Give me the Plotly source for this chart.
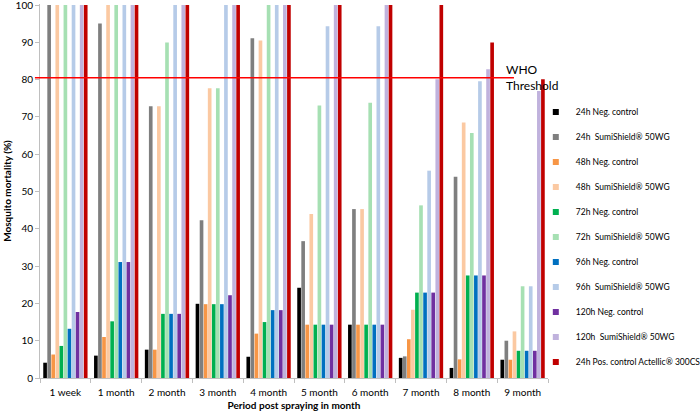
import plotly.graph_objects as go

categories = ["1 week", "1 month", "2 month", "3 month", "4 month", "5 month",
              "6 month", "7 month", "8 month", "9 month"]

series_names = [
    "24h Neg. control",
    "24h  SumiShield® 50WG",
    "48h Neg. control",
    "48h  SumiShield® 50WG",
    "72h Neg. control",
    "72h  SumiShield® 50WG",
    "96h Neg. control",
    "96h  SumiShield® 50WG",
    "120h Neg. control",
    "120h  SumiShield® 50WG",
    "24h Pos. control Actellic® 300CS",
]

neg24 = [4.1, 6.0, 7.6, 19.9, 5.7, 24.2, 14.3, 5.4, 2.7, 4.9]
sumi24 = [100, 95.1, 72.9, 42.3, 91.1, 36.7, 45.3, 5.8, 54.0, 10.0]
neg48 = [6.3, 11.0, 7.6, 19.8, 11.9, 14.3, 14.3, 10.4, 5.0, 4.9]
sumi48 = [100, 100, 72.9, 77.7, 90.5, 44.0, 45.3, 18.3, 68.5, 12.5]
neg72 = [8.6, 15.2, 17.2, 19.8, 15.0, 14.3, 14.3, 22.9, 27.5, 7.3]
sumi72 = [100, 100, 90.0, 77.7, 100, 73.1, 73.8, 46.3, 65.7, 24.6]
neg96 = [13.2, 31.1, 17.2, 19.8, 18.2, 14.3, 14.3, 22.9, 27.5, 7.3]
sumi96 = [100, 100, 100, 100, 100, 94.3, 94.3, 55.6, 79.6, 24.6]
neg120 = [17.7, 31.1, 17.2, 22.2, 18.2, 14.3, 14.3, 22.9, 27.5, 7.3]
sumi120 = [100, 100, 100, 100, 100, 100, 100, 80.1, 82.8, 77.0]
pos24 = [100, 100, 100, 100, 100, 100, 100, 100, 90.0, 80.1]

who_threshold = 80.5
y_ticks = [0, 10, 20, 30, 40, 50, 60, 70, 80, 90, 100]

all_values = [neg24, sumi24, neg48, sumi48, neg72, sumi72, neg96, sumi96,
              neg120, sumi120, pos24]
colors = ["#000000", "#7F7F7F", "#F79646", "#FBC9A2", "#00B050", "#A6E0B3",
          "#0070C0", "#B6CBE8", "#7030A0", "#C0B2DD", "#C00000"]

FONT = "Lato, 'Open Sans', sans-serif"

fig = go.Figure()
for name, vals, col in zip(series_names, all_values, colors):
    fig.add_trace(go.Bar(x=categories, y=vals, name=name, marker_color=col,
                         marker_line_width=0, showlegend=False))
for i, (name, col) in enumerate(zip(series_names, colors)):
    fig.add_trace(go.Scatter(x=[None], y=[None], mode="markers", name=name,
                             legendgroup="g%d" % i,
                             marker=dict(symbol="square", size=6, color=col)))

fig.add_shape(type="line", xref="paper", yref="y", x0=-0.01, x1=0.933,
              y0=who_threshold, y1=who_threshold,
              line=dict(color="#FF0000", width=1.5))
fig.add_annotation(text="WHO<br>Threshold", xref="paper", yref="y",
                   x=0.914, y=who_threshold, xanchor="left", yanchor="middle",
                   showarrow=False, align="left",
                   font=dict(family=FONT, size=12, color="#000000"))

fig.update_layout(
    width=700, height=413,
    margin=dict(l=40, r=152, t=4, b=35, autoexpand=False),
    paper_bgcolor="white", plot_bgcolor="white",
    barmode="group", bargap=0.12, bargroupgap=0.1,
    font=dict(family=FONT, size=10, color="#000000"),
    legend=dict(x=0.976, xanchor="left", y=0.750, yanchor="top",
                font=dict(family=FONT, size=8.5, color="#000000"),
                tracegroupgap=6, itemwidth=30, bgcolor="rgba(0,0,0,0)"),
    xaxis=dict(showline=True, linecolor="#BFBFBF", linewidth=1,
               ticks="outside", tickson="boundaries", ticklen=4,
               tickcolor="#BFBFBF", showgrid=False, automargin=False,
               ticklabelstandoff=5,
               tickfont=dict(family=FONT, size=10, color="#000000"),
               title=dict(text="<b>Period post spraying in month</b>",
                          font=dict(family=FONT, size=10), standoff=4)),
    yaxis=dict(range=[0, 100.3], tickvals=y_ticks, showline=True,
               linecolor="#BFBFBF", linewidth=1, ticks="outside", ticklen=4,
               tickcolor="#BFBFBF", showgrid=False, zeroline=False,
               automargin=False, ticklabeloverflow="allow",
               tickfont=dict(family=FONT, size=10, color="#000000"),
               title=dict(text="<b>Mosquito mortality (%)</b>",
                          font=dict(family=FONT, size=10), standoff=2)),
)

fig.write_html("out.html")
